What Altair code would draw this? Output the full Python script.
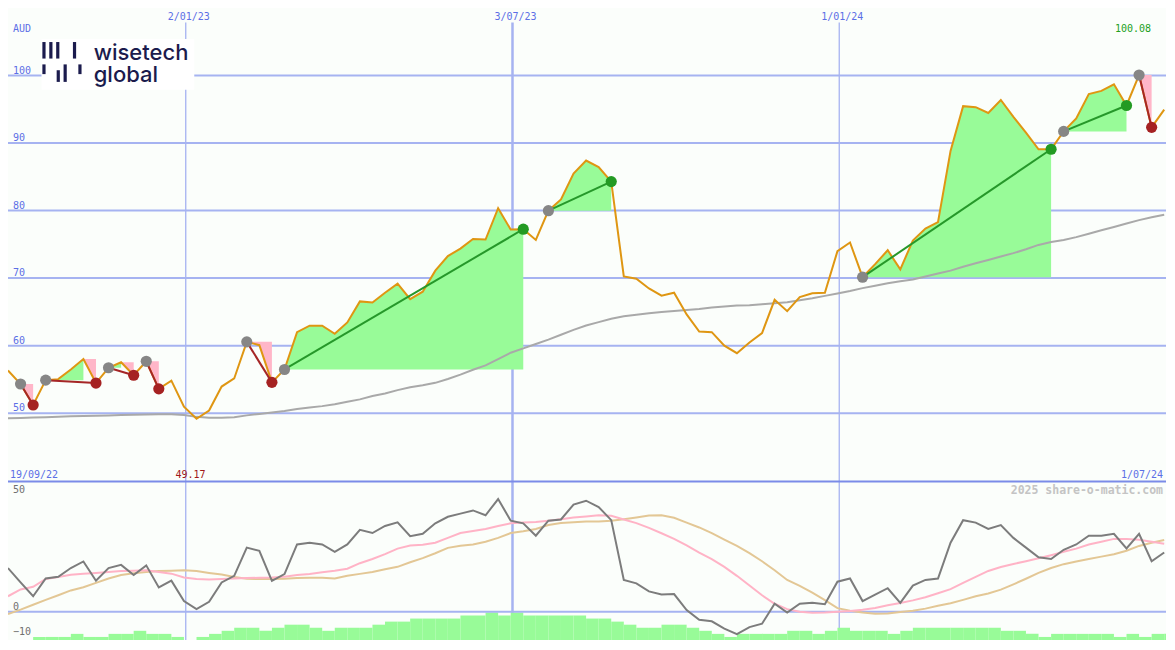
import altair as alt
import pandas as pd

# ---------------- data ----------------
first_week = "2022-09-25"

price = [56.33, 54.32, 51.21, 54.89, 55.04, 56.47, 58.01, 54.46, 56.72, 57.54,
         55.61, 57.68, 53.60, 54.81, 50.96, 49.17, 50.39, 53.94, 55.14, 60.56,
         60.07, 54.56, 56.47, 62.00, 62.95, 62.95, 61.76, 63.44, 66.55, 66.40,
         67.84, 69.19, 66.89, 67.99, 71.11, 73.27, 74.37, 75.81, 75.71, 80.36,
         77.19, 77.25, 75.66, 79.99, 81.65, 85.50, 87.41, 86.46, 84.30, 70.24,
         69.91, 68.47, 67.41, 67.84, 64.63, 62.09, 62.00, 59.99, 58.88, 60.46,
         61.86, 66.79, 65.11, 67.18, 67.76, 67.84, 73.99, 75.28, 70.14, 72.07,
         74.13, 71.29, 75.57, 77.34, 78.30, 88.85, 95.47, 95.32, 94.46, 96.39,
         93.88, 91.54, 89.09, 89.09, 91.73, 93.66, 97.25, 97.73, 98.70, 95.57,
         100.08, 92.33, 94.96]

ma40 = [49.24, 49.29, 49.35, 49.41, 49.48, 49.54, 49.58, 49.63, 49.67, 49.73,
        49.77, 49.81, 49.84, 49.84, 49.74, 49.45, 49.31, 49.31, 49.38, 49.67,
        49.88, 50.10, 50.32, 50.60, 50.82, 51.04, 51.32, 51.68, 52.04, 52.55,
        52.91, 53.41, 53.84, 54.13, 54.49, 55.06, 55.71, 56.43, 57.08, 58.01,
        58.95, 59.60, 60.24, 60.89, 61.61, 62.33, 62.98, 63.48, 63.99, 64.35,
        64.56, 64.78, 64.99, 65.14, 65.28, 65.42, 65.64, 65.78, 65.93, 66.00,
        66.14, 66.29, 66.43, 66.72, 67.01, 67.37, 67.73, 68.09, 68.52, 68.88,
        69.24, 69.53, 69.81, 70.24, 70.68, 71.11, 71.68, 72.19, 72.69, 73.19,
        73.70, 74.27, 74.92, 75.35, 75.64, 76.07, 76.58, 77.08, 77.58, 78.09,
        78.59, 79.02, 79.38]

osc_main = [18.0, 12.1, 6.4, 13.7, 14.4, 18.0, 20.7, 12.8, 18.0, 19.3,
            15.1, 19.1, 10.0, 12.8, 4.4, 1.1, 4.1, 12.1, 14.8, 26.4,
            25.1, 12.7, 15.5, 27.7, 28.4, 27.7, 24.7, 27.7, 33.7, 32.4,
            35.3, 36.8, 31.1, 32.1, 36.4, 39.1, 40.4, 41.7, 39.7, 46.4,
            37.5, 36.4, 31.3, 37.5, 38.0, 44.1, 45.7, 43.1, 37.7, 13.1,
            11.7, 8.4, 7.1, 7.3, 0.7, -3.3, -3.9, -6.9, -9.2, -6.3,
            -4.9, 3.3, -0.3, 3.3, 3.7, 3.1, 12.4, 13.7, 4.4, 7.1,
            9.7, 3.7, 10.8, 13.1, 13.7, 28.4, 37.7, 36.7, 34.1, 35.7,
            30.4, 26.4, 22.4, 21.7, 25.5, 27.7, 31.3, 31.3, 32.1, 26.1,
            32.1, 20.8, 24.4]

osc_fast = [6.4, 9.2, 10.3, 13.5, 14.3, 15.2, 15.7, 16.0, 16.4, 16.8,
            16.9, 17.1, 16.4, 15.7, 14.1, 13.5, 13.3, 13.5, 13.7, 13.9,
            14.0, 14.1, 14.4, 15.1, 15.6, 16.3, 16.9, 17.7, 20.0, 21.7,
            23.7, 26.0, 27.3, 27.6, 28.4, 30.4, 32.4, 33.2, 34.1, 35.3,
            36.4, 36.7, 36.9, 37.5, 38.1, 38.8, 39.2, 39.7, 39.5, 38.0,
            36.5, 34.5, 32.3, 30.0, 27.3, 24.3, 21.7, 18.5, 14.8, 10.8,
            6.8, 3.3, 1.1, 0.0, -0.4, -0.3, 0.0, 0.3, 0.8, 1.6,
            2.7, 3.6, 4.7, 6.0, 7.6, 9.3, 11.9, 14.4, 16.8, 18.4,
            19.7, 20.8, 22.0, 23.3, 24.7, 26.0, 27.7, 28.8, 30.0, 30.0,
            29.6, 28.8, 28.0]

osc_slow = [-0.9, 0.9, 2.9, 4.9, 6.8, 8.8, 10.1, 11.9, 13.7, 15.1,
            15.9, 16.4, 16.8, 16.9, 17.1, 16.8, 16.0, 15.3, 14.3, 13.6,
            13.5, 13.5, 13.6, 13.9, 14.0, 14.0, 13.7, 14.8, 15.6, 16.4,
            17.5, 18.5, 20.4, 22.1, 24.1, 26.3, 27.2, 27.7, 28.8, 30.4,
            32.4, 33.1, 34.1, 35.7, 36.5, 36.8, 37.1, 37.2, 37.5, 38.1,
            38.8, 39.6, 39.7, 38.7, 36.7, 34.7, 32.4, 29.7, 27.1, 24.1,
            20.8, 17.1, 13.1, 10.7, 7.9, 4.8, 1.5, 0.4, -0.3, -0.8,
            -0.7, -0.1, 0.4, 1.3, 2.5, 3.5, 4.9, 6.4, 7.5, 9.1,
            11.3, 13.6, 16.0, 18.0, 19.6, 20.7, 21.7, 22.7, 23.7, 25.1,
            27.1, 28.4, 29.5]

volume = [0, 0, 1, 1, 1, 2, 1, 1, 2, 2,
          3, 2, 2, 1, 0, 1, 2, 3, 4, 4,
          3, 4, 5, 5, 4, 3, 4, 4, 4, 5,
          6, 6, 7, 7, 7, 7, 8, 8, 9, 8,
          9, 8, 8, 8, 8, 8, 7, 7, 6, 5,
          4, 4, 5, 5, 4, 3, 2, 1, 2, 2,
          2, 2, 3, 3, 2, 3, 4, 3, 3, 3,
          2, 3, 4, 4, 4, 4, 4, 4, 4, 3,
          3, 2, 1, 2, 2, 2, 2, 2, 1, 2,
          1, 2, 2]

trade_entry = [1, 3, 8, 11, 19, 22, 43, 68, 84, 90]
trade_exit = [2, 7, 10, 12, 21, 41, 48, 83, 89, 91]

grid_price = [50, 60, 70, 80, 90, 100]
grid_osc_top = [50]
grid_osc_low = [0, -10]
grid_dates = ["2023-01-02T00:00:00", "2023-07-03T00:00:00", "2024-01-01T00:00:00"]
grid_date_labels = ["2/01/23", "3/07/23", "1/01/24"]
range_start_label = "19/09/22"
range_end_label = "1/07/24"
currency = "AUD"
credit = "2025 share-o-matic.com"
logo_words = ["wisetech", "global"]

# ---------------- layout helpers ----------------
W, H = 1158, 632
sx, sy = W / 1175, H / 650


def px(v):
    return v * sx


def py(v):
    return v * sy


MONO = "DejaVu Sans Mono"
BLUE_TXT = "#5c6fe6"
GRID = "#a6b3f1"
LOGO = "#1b1b4d"

dates = pd.date_range(first_week, periods=len(price), freq="7D")
iso = [d.strftime("%Y-%m-%dT00:00:00") for d in dates]
iso_next = [(d + pd.Timedelta(days=7)).strftime("%Y-%m-%dT00:00:00") for d in dates]
df = pd.DataFrame({"date": iso, "date2": iso_next, "price": price, "ma": ma40,
                   "osc": osc_main, "fast": osc_fast, "slow": osc_slow, "vol": volume})
one = pd.DataFrame({"k": [0]})

# trades -> fills, connecting lines, dots
fill_rows, line_rows, dot_rows = [], [], []
for t, (a, b) in enumerate(zip(trade_entry, trade_exit)):
    pa, pb = price[a], price[b]
    win = pb > pa
    outcome = "win" if win else "loss"
    line_rows += [{"trade": t, "date": iso[a], "price": pa, "outcome": outcome},
                  {"trade": t, "date": iso[b], "price": pb, "outcome": outcome}]
    dot_rows += [{"date": iso[a], "price": pa, "kind": "entry"},
                 {"date": iso[b], "price": pb, "kind": outcome}]
    if win:
        for i in range(a, b + 1):
            fill_rows.append({"seg": f"{t}g", "date": iso[i], "y": price[i], "y2": pa, "kind": "gain"})
    else:
        k = max(range(a, b + 1), key=lambda i: price[i])
        if k > a:
            for i in range(a, k + 1):
                fill_rows.append({"seg": f"{t}g", "date": iso[i], "y": max(price[i], pa), "y2": pa, "kind": "gain"})
        for i in range(k, b + 1):
            fill_rows.append({"seg": f"{t}d", "date": iso[i], "y": price[i], "y2": price[k], "kind": "drawdown"})

fills = pd.DataFrame(fill_rows)
tlines = pd.DataFrame(line_rows)
dots = pd.DataFrame(dot_rows)

# ---------------- scales ----------------
xscale = alt.Scale(domain=[alt.DateTime(year=2022, month=9, date=25),
                           alt.DateTime(year=2024, month=7, date=1)])
X = alt.X("date:T", scale=xscale, axis=None)
pscale = alt.Scale(domain=[16.40, 110.01], zero=False, nice=False)
oscale = alt.Scale(domain=[-11.6, 248.4], zero=False, nice=False)
vscale = alt.Scale(domain=[0, 206.3], zero=False, nice=False)

# ---------------- background layers ----------------
gdf = pd.DataFrame({"date": grid_dates, "label": grid_date_labels})
vgrid = alt.Chart(gdf).mark_rule(color=GRID).encode(
    x=X, y=alt.value(py(15)), y2=alt.value(H),
    strokeWidth=alt.condition("month(datum.date) == 6", alt.value(2.5), alt.value(1.3)))
vlabels = alt.Chart(gdf).mark_text(font=MONO, fontSize=10, color=BLUE_TXT, align="center",
                                   baseline="alphabetic", dx=3).encode(
    x=X, y=alt.value(py(12.7)), text="label:N")

separator = alt.Chart(one).mark_rule(color="#7b8be8", strokeWidth=2).encode(
    x=alt.value(0), x2=alt.value(W), y=alt.value(py(487)))

# ---------------- volume ----------------
vol = alt.Chart(df).mark_rect(color="#98fb98", clip=True).encode(
    x=X, x2="date2:T", y=alt.Y("vol:Q", scale=vscale, axis=None), y2=alt.datum(0))

# ---------------- oscillator panel ----------------
osc_base = alt.Chart(df).encode(x=X)
zero_line = alt.Chart(pd.DataFrame({"v": [0]})).mark_rule(color=GRID, strokeWidth=2).encode(
    y=alt.Y("v:Q", scale=oscale, axis=None))
osc_top_lbl = alt.Chart(pd.DataFrame({"v": grid_osc_top})).mark_text(
    font=MONO, fontSize=10, color="#707070", align="left", baseline="middle").encode(
    x=alt.value(px(5)), y=alt.Y("v:Q", scale=oscale, axis=None), text="v:Q")
osc_low_lbl = alt.Chart(pd.DataFrame({"v": grid_osc_low})).mark_text(
    font=MONO, fontSize=10, color="#707070", align="left", baseline="alphabetic", dy=-1.5).encode(
    x=alt.value(px(5)), y=alt.Y("v:Q", scale=oscale, axis=None), text="v:Q")
slow_line = osc_base.mark_line(color="#e3c795", strokeWidth=2).encode(
    y=alt.Y("slow:Q", scale=oscale, axis=None))
fast_line = osc_base.mark_line(color="#ffb3c6", strokeWidth=2).encode(
    y=alt.Y("fast:Q", scale=oscale, axis=None))
main_line = osc_base.mark_line(color="#7c7c7c", strokeWidth=2).encode(
    y=alt.Y("osc:Q", scale=oscale, axis=None))
credit_txt = alt.Chart(one).mark_text(font=MONO, fontSize=11.5, fontWeight="bold", color="#c4c4c4",
                                      align="right", baseline="alphabetic", text=credit).encode(
    x=alt.value(px(1172)), y=alt.value(py(500)))
osc_group = alt.layer(zero_line, slow_line, fast_line, main_line, osc_top_lbl, osc_low_lbl, credit_txt)

# ---------------- price panel ----------------
hgrid_df = pd.DataFrame({"v": grid_price})
hgrid = alt.Chart(hgrid_df).mark_rule(color=GRID, strokeWidth=2).encode(
    y=alt.Y("v:Q", scale=pscale, axis=None))
hlabels = alt.Chart(hgrid_df).mark_text(font=MONO, fontSize=10, color=BLUE_TXT, align="left",
                                        baseline="alphabetic", dy=-2).encode(
    x=alt.value(px(5)), y=alt.Y("v:Q", scale=pscale, axis=None), text="v:Q")

fill_enc = dict(x=X, y=alt.Y("y:Q", scale=pscale, axis=None, stack=None), y2="y2:Q", detail="seg:N")
gain_fill = alt.Chart(fills).transform_filter("datum.kind == 'gain'").mark_area(
    color="#98fb98", opacity=1, interpolate="linear").encode(**fill_enc)
dd_fill = alt.Chart(fills).transform_filter("datum.kind == 'drawdown'").mark_area(
    color="#ffb6c8", opacity=1, interpolate="linear").encode(**fill_enc)

ma_line = alt.Chart(df).mark_line(color="#a9a9a9", strokeWidth=2).encode(
    x=X, y=alt.Y("ma:Q", scale=pscale, axis=None))
price_line = alt.Chart(df).mark_line(color="#df9612", strokeWidth=2).encode(
    x=X, y=alt.Y("price:Q", scale=pscale, axis=None))

tl_enc = dict(x=X, y=alt.Y("price:Q", scale=pscale, axis=None), detail="trade:N")
win_lines = alt.Chart(tlines).transform_filter("datum.outcome == 'win'").mark_line(
    color="#26982a", strokeWidth=2).encode(**tl_enc)
loss_lines = alt.Chart(tlines).transform_filter("datum.outcome == 'loss'").mark_line(
    color="#a52626", strokeWidth=2).encode(**tl_enc)

dot_enc = dict(x=X, y=alt.Y("price:Q", scale=pscale, axis=None))
entry_dots = alt.Chart(dots).transform_filter("datum.kind == 'entry'").mark_circle(
    color="#868686", size=125, opacity=1).encode(**dot_enc)
win_dots = alt.Chart(dots).transform_filter("datum.kind == 'win'").mark_circle(
    color="#239a23", size=125, opacity=1).encode(**dot_enc)
loss_dots = alt.Chart(dots).transform_filter("datum.kind == 'loss'").mark_circle(
    color="#a52222", size=125, opacity=1).encode(**dot_enc)

min_lbl = alt.Chart(df).transform_joinaggregate(pmin="min(price)").transform_filter(
    "datum.price == datum.pmin").mark_text(font=MONO, fontSize=10, color="#a01818", align="center",
                                           baseline="alphabetic", dx=-6).encode(
    x=X, y=alt.value(py(483)), text=alt.Text("price:Q", format=".2f"))
max_lbl = alt.Chart(df).transform_joinaggregate(pmax="max(price)").transform_filter(
    "datum.price == datum.pmax").mark_text(font=MONO, fontSize=10, color="#22a022", align="center",
                                           baseline="alphabetic", dx=-6).encode(
    x=X, y=alt.value(py(25)), text=alt.Text("price:Q", format=".2f"))

price_group = alt.layer(hgrid, hlabels, gain_fill, dd_fill, ma_line, price_line,
                        win_lines, loss_lines, entry_dots, win_dots, loss_dots, min_lbl, max_lbl)


# ---------------- annotations ----------------
def txt(s, x, y, align="left", color=BLUE_TXT, size=10, font=MONO, weight="normal"):
    return alt.Chart(one).mark_text(text=s, font=font, fontSize=size, color=color, align=align,
                                    baseline="alphabetic", fontWeight=weight).encode(
        x=alt.value(px(x)), y=alt.value(py(y)))


ann = [txt(currency, 5, 25), txt(range_start_label, 2, 483),
       txt(range_end_label, 1172, 483, align="right")]

# logo (decoration)
logo_box = alt.Chart(one).mark_rect(color="white").encode(
    x=alt.value(px(34)), x2=alt.value(px(189)), y=alt.value(py(32)), y2=alt.value(py(84)))
logo_bars = []
for (bx, b0, b1) in [(36.5, 35, 52), (43.5, 35, 52), (50.5, 35, 52), (67.5, 35, 52),
                     (36.5, 58, 68), (51, 64, 76), (58, 58, 76), (73, 58, 68)]:
    logo_bars.append(alt.Chart(one).mark_rule(color=LOGO, strokeWidth=3.2).encode(
        x=alt.value(px(bx)), y=alt.value(py(b0)), y2=alt.value(py(b1))))
logo_text = alt.Chart(one).mark_text(
    text="\n".join(logo_words), lineBreak="\n", lineHeight=22.5, font="Inter", fontSize=22,
    fontWeight=500, color=LOGO, align="left", baseline="alphabetic").encode(
    x=alt.value(px(87)), y=alt.value(py(53)))

chart = alt.layer(vgrid, vlabels, separator, vol, osc_group, price_group, *ann,
                  logo_box, *logo_bars, logo_text).resolve_scale(y="independent").properties(
    width=W, height=H, padding=0, autosize=alt.AutoSizeParams(type="none")
).configure(background="#fbfefb").configure_view(stroke=None)

chart.save("out.html", embed_options={"renderer": "svg", "actions": False})
